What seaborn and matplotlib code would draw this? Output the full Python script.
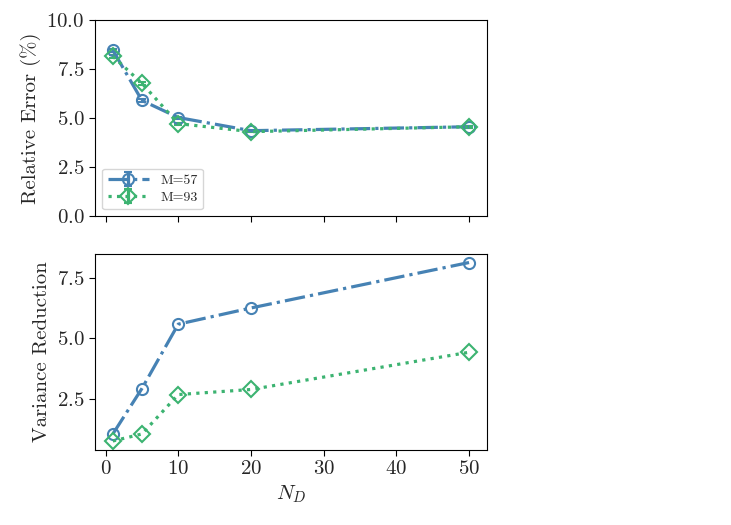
import matplotlib
matplotlib.use("Agg")
import matplotlib.pyplot as plt
import numpy as np
import pandas as pd
import seaborn as sns

n_d = [1, 5, 10, 20, 50]
err_m57 = [8.46, 5.90, 5.03, 4.36, 4.56]
err_m93 = [8.15, 6.77, 4.72, 4.31, 4.56]
err_m57_sd = [0.08, 0.06, 0.05, 0.04, 0.04]
err_m93_sd = [0.08, 0.06, 0.05, 0.04, 0.04]
vr_m57 = [1.04, 2.92, 5.58, 6.25, 8.13]
vr_m93 = [0.75, 1.04, 2.67, 2.88, 4.42]
labels = ["M=57", "M=93"]

sns.set_style("ticks")
plt.rcParams["font.family"] = "serif"
plt.rcParams["font.serif"] = ["cmr10", "DejaVu Serif"]
plt.rcParams["mathtext.fontset"] = "cm"
plt.rcParams["axes.unicode_minus"] = False
plt.rcParams["axes.formatter.use_mathtext"] = True

blue = "#4682B4"
green = "#3CB371"
fs = 15

fig, (ax1, ax2) = plt.subplots(2, 1, sharex=True, figsize=(7.31, 5.25), dpi=100)
fig.subplots_adjust(left=0.13, right=0.666, top=0.962, bottom=0.143, hspace=0.19)

# top: relative error with error bars
ax1.errorbar(n_d, err_m57, yerr=err_m57_sd, color=blue, ls="-.", lw=2.3,
             marker="o", ms=8, mfc="none", mew=1.5, capsize=3, label=labels[0])
ax1.errorbar(n_d, err_m93, yerr=err_m93_sd, color=green, ls=":", lw=2.3,
             marker="D", ms=8, mfc="none", mew=1.5, capsize=3, label=labels[1])
ax1.set_ylim(0, 10)
ax1.set_yticks([0, 2.5, 5.0, 7.5, 10.0])
ax1.set_ylabel("Relative Error (%)", fontsize=fs)
ax1.legend(loc="lower left", fontsize=10, handlelength=3, borderpad=0.4,
           labelspacing=0.3)

# bottom: variance reduction
df = pd.DataFrame({"N_D": n_d * 2, "vr": vr_m57 + vr_m93,
                   "M": [labels[0]] * 5 + [labels[1]] * 5})
sns.lineplot(data=df[df.M == labels[0]], x="N_D", y="vr", ax=ax2, color=blue,
             ls="-.", lw=2.3, marker="o", ms=8, mfc="none", mec=blue, mew=1.5)
sns.lineplot(data=df[df.M == labels[1]], x="N_D", y="vr", ax=ax2, color=green,
             ls=":", lw=2.3, marker="D", ms=8, mfc="none", mec=green, mew=1.5)
ax2.set_yticks([2.5, 5.0, 7.5])
ax2.set_ylabel("Variance Reduction", fontsize=fs)
ax2.set_xlabel("$N_D$", fontsize=fs)
ax2.set_xticks([0, 10, 20, 30, 40, 50])

for ax in (ax1, ax2):
    ax.tick_params(labelsize=fs, direction="out", length=4, color="black")
    for s in ax.spines.values():
        s.set_visible(True)
        s.set_color("black")

fig.savefig("out.png", dpi=100)
